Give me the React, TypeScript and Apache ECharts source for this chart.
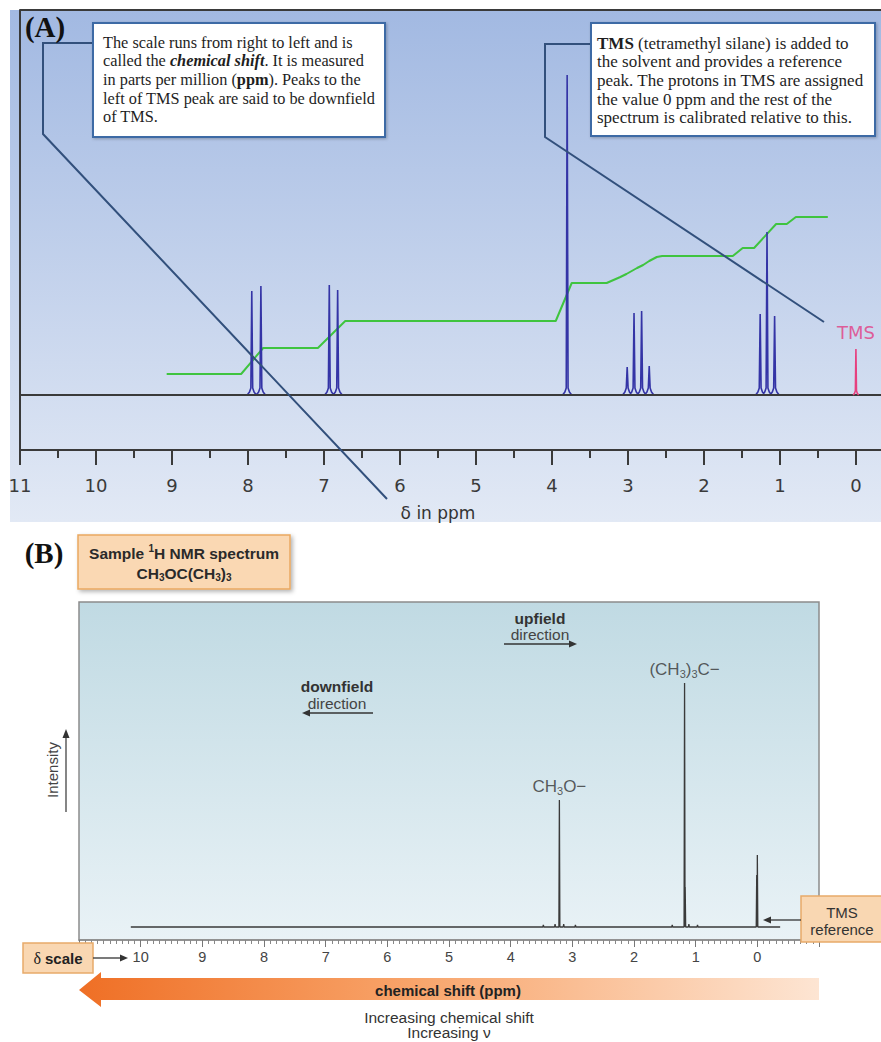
import React, { useEffect, useRef } from "react";
import * as echarts from "echarts";

// ---------------- Panel A data ----------------
const aTickValues = [0, 1, 2, 3, 4, 5, 6, 7, 8, 9, 10, 11];
const aMinorTickValues = [0.5, 1.5, 2.5, 3.5, 4.5, 5.5, 6.5, 7.5, 8.5, 9.5, 10.5];
const aPeakPpm = [7.95, 7.83, 6.93, 6.82, 3.8, 3.01, 2.92, 2.82, 2.72, 1.26, 1.17, 1.07];
const aPeakHeight = [104, 109, 110, 105, 320, 28, 82, 84, 29, 81, 163, 79];
const aBaselineRange = [9.15, -0.18];
const aTmsPeak = [0, 46];
const aIntegralPpm = [9.07, 8.09, 7.8, 7.08, 6.72, 3.95, 3.74, 3.28, 3.16, 3.1, 3.02, 2.95, 2.88, 2.8, 2.72, 2.62, 2.55, 1.62, 1.49, 1.34, 1.05, 0.91, 0.79, 0.37];
const aIntegralHeight = [21, 21, 47, 47, 74, 74, 112, 112, 116, 118, 121, 124, 127, 130, 134, 138, 139, 139, 147, 147, 171, 171, 178, 178];

// ---------------- Panel B data ----------------
const bAxisMin = -1;
const bAxisMax = 11;
const bPeakPpm = [3.21, 1.18, 0.0];
const bPeakHeight = [127, 244, 72];
const bPeakLabels = ["{m|CH}{s|3}{m|O\u2212}", "{m|(CH}{s|3}{m|)}{s|3}{m|C\u2212}", ""];
const bShoulderPpm = [1.17, 0.01];
const bShoulderHeight = [40, 52];
const bSatellitePpm = [3.47, 3.28, 3.14, 2.95, 1.38, 1.11, 0.97];
const bSatelliteHeight = [2, 3, 3, 2, 2, 3, 2];
const bBaselineRange = [10.16, -0.37];

// ---------------- builders ----------------
function humpShape(p: number, h: number): number[][] {
  return [
    [p + 0.06, 0],
    [p + 0.03, 3],
    [p + 0.012, 7],
    [p, h],
    [p - 0.012, 7],
    [p - 0.03, 3],
    [p - 0.06, 0],
  ];
}
function spikeShape(p: number, h: number): number[][] {
  return [
    [p + 0.008, 0],
    [p, h],
    [p - 0.008, 0],
  ];
}

function buildSpectrumA() {
  const pts: number[][] = [[aBaselineRange[0], 0]];
  aPeakPpm.forEach((p, i) => pts.push(...humpShape(p, aPeakHeight[i])));
  pts.push([aBaselineRange[1], 0]);
  return pts;
}
function buildSpectrumB() {
  const all: number[][] = [];
  bPeakPpm.forEach((p, i) => all.push([p, bPeakHeight[i]]));
  bShoulderPpm.forEach((p, i) => all.push([p, bShoulderHeight[i]]));
  bSatellitePpm.forEach((p, i) => all.push([p, bSatelliteHeight[i]]));
  all.sort((a, b) => b[0] - a[0]);
  const pts: number[][] = [[bBaselineRange[0], 0]];
  all.forEach(([p, h]) => pts.push(...spikeShape(p, h)));
  pts.push([bBaselineRange[1], 0]);
  return pts;
}

const SANS = "Liberation Sans";
const SERIF = "Liberation Serif";

function txt(x: number, y: number, text: string, o: any = {}) {
  const align = o.align ?? "center";
  const va = o.va ?? "middle";
  return {
    type: "text",
    x,
    y,
    z: 40,
    silent: true,
    rotation: o.rotation ?? 0,
    style: {
      text,
      fill: o.fill ?? "#333",
      fontSize: o.fontSize ?? 13,
      fontFamily: o.fontFamily ?? SANS,
      fontWeight: o.fontWeight ?? "normal",
      fontStyle: o.fontStyle ?? "normal",
      align,
      textAlign: align,
      verticalAlign: va,
      textVerticalAlign: va,
      lineHeight: o.lineHeight,
      rich: o.rich,
    },
  };
}
function rs(size: number, weight: string, fill: string, family: string, extra: any = {}) {
  return { fontSize: size, fontWeight: weight, fill, color: fill, fontFamily: family, ...extra };
}
function hArrow(x1: number, x2: number, y: number, color: string, head = 8, half = 3.5) {
  const dir = x2 > x1 ? 1 : -1;
  return [
    { type: "line", z: 40, silent: true, shape: { x1, y1: y, x2: x2 - dir * head * 0.8, y2: y }, style: { stroke: color, lineWidth: 1.3 } },
    { type: "polygon", z: 40, silent: true, shape: { points: [[x2, y], [x2 - dir * head, y - half], [x2 - dir * head, y + half]] }, style: { fill: color } },
  ];
}

function buildOption() {
  const g: any[] = [];
  // backgrounds
  g.push({
    type: "rect", z: -10, silent: true,
    shape: { x: 10, y: 10, width: 871, height: 512 },
    style: { fill: new echarts.graphic.LinearGradient(0, 0, 0, 1, [{ offset: 0, color: "#a2b9e2" }, { offset: 1, color: "#e2e9f5" }]) },
  });
  g.push({
    type: "rect", z: -10, silent: true,
    shape: { x: 79, y: 602, width: 740, height: 338 },
    style: { fill: new echarts.graphic.LinearGradient(0, 0, 0, 1, [{ offset: 0, color: "#c0dae3" }, { offset: 1, color: "#e9f2f6" }]) },
  });
  // top frame line of A
  g.push({ type: "line", z: 5, silent: true, shape: { x1: 20, y1: 10, x2: 881, y2: 10 }, style: { stroke: "#3a3a3a", lineWidth: 2 } });

  // callouts A
  g.push({ type: "polyline", z: 20, silent: true, shape: { points: [[93, 43], [43, 43], [43, 134], [387, 499]] }, style: { stroke: "#32507c", lineWidth: 2, fill: null } });
  g.push({ type: "polyline", z: 20, silent: true, shape: { points: [[591, 44], [545, 44], [545, 137], [824, 322]] }, style: { stroke: "#32507c", lineWidth: 2, fill: null } });

  // text boxes A
  const boxStyle = { fill: "#ffffff", stroke: "#3c6aa5", lineWidth: 2, shadowBlur: 3, shadowColor: "rgba(0,0,0,0.25)", shadowOffsetX: 1, shadowOffsetY: 1 };
  g.push({ type: "rect", z: 30, silent: true, shape: { x: 93, y: 23, width: 292, height: 114 }, style: boxStyle });
  g.push({ type: "rect", z: 30, silent: true, shape: { x: 591, y: 23, width: 284, height: 113 }, style: boxStyle });
  const serifRichL = {
    b: rs(16.3, "bold", "#1e1e1e", SERIF),
    bi: rs(16.3, "bold", "#1e1e1e", SERIF, { fontStyle: "italic" }),
  };
  const serifRichR = {
    b: rs(17, "bold", "#1e1e1e", SERIF),
    bi: rs(17, "bold", "#1e1e1e", SERIF, { fontStyle: "italic" }),
  };
  g.push(
    txt(103, 33,
      "The scale runs from right to left and is\ncalled the {bi|chemical shift}. It is measured\nin parts per million ({b|ppm}). Peaks to the\nleft of TMS peak are said to be downfield\nof TMS.",
      { align: "left", va: "top", fontSize: 16.3, fontFamily: SERIF, fill: "#1e1e1e", lineHeight: 18.6, rich: serifRichL })
  );
  g.push(
    txt(597, 34,
      "{b|TMS} (tetramethyl silane) is added to\nthe solvent and provides a reference\npeak. The protons in TMS are assigned\nthe value 0 ppm and the rest of the\nspectrum is calibrated relative to this.",
      { align: "left", va: "top", fontSize: 17, fontFamily: SERIF, fill: "#1e1e1e", lineHeight: 18.6, rich: serifRichR })
  );

  // panel letters
  g.push(txt(45, 27, "(A)", { fontSize: 29, fontWeight: "bold", fontFamily: SERIF, fill: "#111" }));
  g.push(txt(44, 553, "(B)", { fontSize: 29, fontWeight: "bold", fontFamily: SERIF, fill: "#111" }));

  // axis title A
  g.push(txt(438, 513, "\u03b4 in ppm", { fontSize: 17, fontFamily: "DejaVu Sans", fill: "#333" }));

  // orange title box B
  g.push({
    type: "rect", z: 30, silent: true, shape: { x: 78, y: 535, width: 212, height: 54 },
    style: { fill: "#fad8b3", stroke: "#eaa860", lineWidth: 1.5, shadowBlur: 4, shadowColor: "rgba(0,0,0,0.3)", shadowOffsetX: 2, shadowOffsetY: 2 },
  });
  const titleRich = {
    b: rs(15.5, "bold", "#2a2a2a", SANS, { lineHeight: 19 }),
    sup: rs(10, "bold", "#2a2a2a", SANS, { verticalAlign: "top", lineHeight: 11 }),
    sub: rs(10, "bold", "#2a2a2a", SANS, { verticalAlign: "bottom", lineHeight: 11 }),
  };
  g.push(txt(184, 553, "{b|Sample }{sup|1}{b|H NMR spectrum}", { rich: titleRich }));
  g.push(txt(184, 573, "{b|CH}{sub|3}{b|OC(CH}{sub|3}{b|)}{sub|3}", { rich: titleRich }));

  // direction annotations
  g.push(txt(540, 618, "upfield", { fontSize: 15.5, fontWeight: "bold", fill: "#333" }));
  g.push(txt(540, 634, "direction", { fontSize: 15.5, fill: "#444" }));
  g.push(...hArrow(504, 577, 644, "#333"));
  g.push(txt(337, 686, "downfield", { fontSize: 15.5, fontWeight: "bold", fill: "#333" }));
  g.push(txt(337, 703, "direction", { fontSize: 15.5, fill: "#444" }));
  g.push(...hArrow(373, 302, 713, "#333"));

  // intensity label
  g.push(txt(52, 770, "Intensity", { fontSize: 15, fill: "#444", rotation: Math.PI / 2 }));
  g.push({ type: "line", z: 40, silent: true, shape: { x1: 66, y1: 812, x2: 66, y2: 736 }, style: { stroke: "#444", lineWidth: 1.3 } });
  g.push({ type: "polygon", z: 40, silent: true, shape: { points: [[66, 729], [62.5, 738], [69.5, 738]] }, style: { fill: "#333" } });

  // delta scale box
  const peach = { fill: "#f9d7b2", stroke: "#e7aa6a", lineWidth: 1.5 };
  g.push({ type: "rect", z: 30, silent: true, shape: { x: 23, y: 943, width: 70, height: 30 }, style: peach });
  g.push(txt(58, 958, "{n|\u03b4 }{b|scale}", {
    rich: { n: rs(16, "normal", "#222", SERIF), b: rs(15, "bold", "#222", SANS) },
  }));
  g.push(...hArrow(93, 128, 958, "#333"));

  // TMS reference box
  g.push({ type: "rect", z: 30, silent: true, shape: { x: 801, y: 896, width: 81, height: 46 }, style: peach });
  g.push(txt(842, 912, "TMS", { fontSize: 15, fill: "#333" }));
  g.push(txt(842, 929, "reference", { fontSize: 15, fill: "#333" }));
  g.push(...hArrow(801, 763, 920, "#333"));

  // big chemical shift arrow
  g.push({
    type: "polygon", z: 30, silent: true,
    shape: { points: [[79, 990], [101, 972], [101, 978], [819, 978], [819, 1000], [101, 1000], [101, 1007]] },
    style: {
      fill: new echarts.graphic.LinearGradient(0, 0, 1, 0, [
        { offset: 0, color: "#ef6f25" },
        { offset: 0.45, color: "#f8a46a" },
        { offset: 1, color: "#fde5d3" },
      ]),
    },
  });
  g.push(txt(448, 990, "chemical shift (ppm)", { fontSize: 15, fontWeight: "bold", fill: "#222" }));
  g.push(txt(449, 1017, "Increasing chemical shift", { fontSize: 15.5, fill: "#333" }));
  g.push(txt(449, 1032, "Increasing \u03bd", { fontSize: 15.5, fill: "#333" }));

  const peakLabelRich = {
    m: rs(17, "normal", "#333", SANS, { lineHeight: 20 }),
    s: rs(11, "normal", "#333", SANS, { verticalAlign: "bottom", lineHeight: 12 }),
  };

  return {
    animation: false,
    backgroundColor: "#ffffff",
    grid: [
      { left: 20, top: 10, width: 861, height: 440, show: false },
      { left: 79, top: 602, width: 740, height: 338, show: true, borderColor: "#8c8c8c", borderWidth: 1.5, backgroundColor: "transparent" },
    ],
    xAxis: [
      {
        gridIndex: 0, type: "value", position: "bottom", min: -0.33, max: 11, inverse: true,
        axisLine: { show: true, onZero: false, lineStyle: { color: "#3a3a3a", width: 2 } },
        axisTick: { show: true, length: 15, customValues: aTickValues, lineStyle: { color: "#3a3a3a", width: 2 } },
        axisLabel: { show: true, customValues: aTickValues, margin: 26, fontSize: 18, color: "#3a3a3a", fontFamily: "DejaVu Sans" },
        splitLine: { show: false },
      },
      {
        gridIndex: 0, type: "value", position: "bottom", min: -0.33, max: 11, inverse: true,
        axisLine: { show: false, onZero: false },
        axisTick: { show: true, length: 8, customValues: aMinorTickValues, lineStyle: { color: "#3a3a3a", width: 2 } },
        axisLabel: { show: false },
        splitLine: { show: false },
      },
      {
        gridIndex: 1, type: "value", position: "bottom", min: bAxisMin, max: bAxisMax, interval: 1, inverse: true,
        axisLine: { show: true, onZero: false, lineStyle: { color: "#8c8c8c", width: 1.5 } },
        axisTick: { show: true, length: 7, lineStyle: { color: "#777" } },
        minorTick: { show: true, splitNumber: 10, length: 4, lineStyle: { color: "#888" } },
        axisLabel: {
          margin: 9, fontSize: 14.5, color: "#444", fontFamily: SANS,
          showMinLabel: false, showMaxLabel: false,
          formatter: (v: number) => (v < 0 || v > 10 ? "" : String(v)),
        },
        splitLine: { show: false },
        minorSplitLine: { show: false },
      },
    ],
    yAxis: [
      {
        gridIndex: 0, type: "value", position: "left", min: -55, max: 385,
        axisLine: { show: true, onZero: false, lineStyle: { color: "#3a3a3a", width: 2 } },
        axisTick: { show: false }, axisLabel: { show: false }, splitLine: { show: false },
      },
      { gridIndex: 1, type: "value", min: -13, max: 325, show: false, splitLine: { show: false } },
    ],
    series: [
      {
        name: "spectrumA", type: "line", xAxisIndex: 0, yAxisIndex: 0, data: buildSpectrumA(),
        symbol: "none", showSymbol: false, z: 4,
        lineStyle: { color: "#3434a6", width: 1.6 },
        markLine: {
          silent: true, symbol: ["none", "none"], label: { show: false },
          lineStyle: { color: "#3a3a3a", width: 2, type: "solid" },
          data: [{ yAxis: 0 }],
        },
      },
      {
        name: "integralA", type: "line", xAxisIndex: 0, yAxisIndex: 0,
        data: aIntegralPpm.map((p, i) => [p, aIntegralHeight[i]]),
        symbol: "none", showSymbol: false, z: 3,
        lineStyle: { color: "#3fc43f", width: 2 },
      },
      {
        name: "tmsA", type: "line", xAxisIndex: 0, yAxisIndex: 0,
        data: humpShape(aTmsPeak[0], aTmsPeak[1]).map((d) => [d[0] * 0.6, d[1] * (d[1] === aTmsPeak[1] ? 1 : 0.6)]),
        symbol: "none", showSymbol: false, z: 5,
        lineStyle: { color: "#e6407f", width: 1.6 },
      },
      {
        name: "tmsLabelA", type: "scatter", xAxisIndex: 0, yAxisIndex: 0,
        data: [[aTmsPeak[0], aTmsPeak[1]]], symbolSize: 1, z: 6,
        itemStyle: { color: "rgba(0,0,0,0)" },
        label: { show: true, position: "top", distance: 7, formatter: "TMS", color: "#e23c82", fontSize: 18, fontFamily: "DejaVu Sans" },
      },
      {
        name: "spectrumB", type: "line", xAxisIndex: 2, yAxisIndex: 1, data: buildSpectrumB(),
        symbol: "none", showSymbol: false, z: 4,
        lineStyle: { color: "#3a3a3a", width: 1.3 },
      },
      {
        name: "peakLabelsB", type: "scatter", xAxisIndex: 2, yAxisIndex: 1,
        data: bPeakPpm.map((p, i) => ({ value: [p, bPeakHeight[i]], labelText: bPeakLabels[i] })).filter((d) => d.labelText),
        symbolSize: 1, z: 6,
        itemStyle: { color: "rgba(0,0,0,0)" },
        label: {
          show: true, position: "top", distance: 3,
          formatter: (prm: any) => prm.data.labelText,
          rich: peakLabelRich,
        },
      },
    ],
    graphic: { elements: g },
  };
}

export default function App() {
  const ref = useRef<HTMLDivElement>(null);
  useEffect(() => {
    if (!ref.current) return;
    const chart = echarts.init(ref.current, undefined, { renderer: "svg" });
    chart.setOption(buildOption() as any);
    return () => chart.dispose();
  }, []);
  return <div ref={ref} style={{ position: "absolute", left: 0, top: 0, width: 881, height: 1042 }} />;
}
